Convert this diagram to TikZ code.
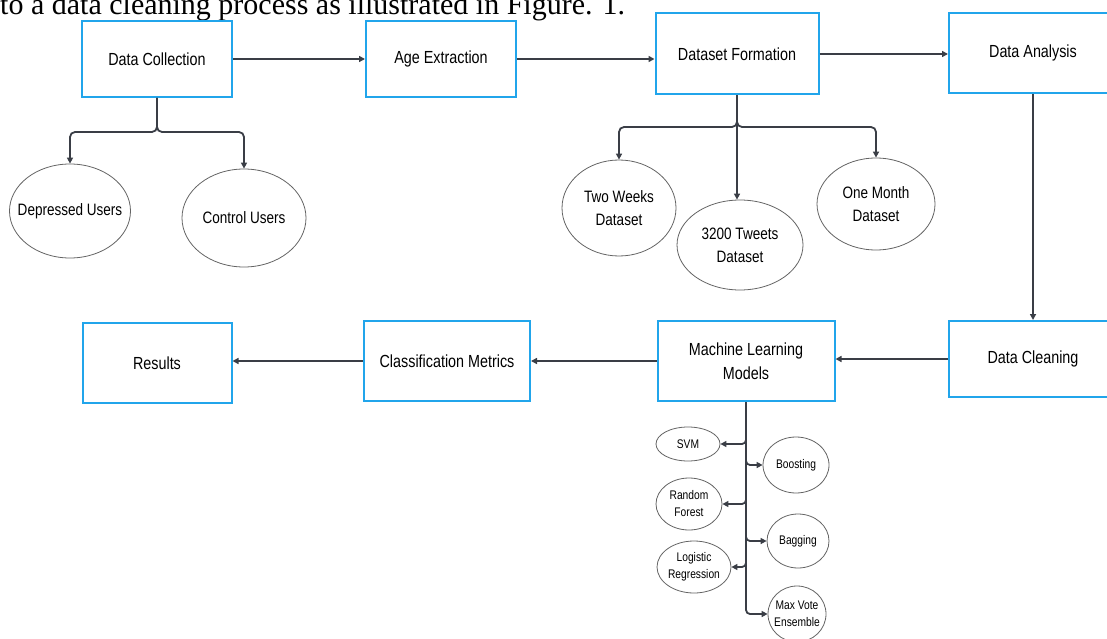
\documentclass[tikz,border=0pt]{standalone}
\usepackage{fontspec}
\usepackage{tikz}
\usetikzlibrary{arrows.meta, positioning, calc, shapes.geometric}
\newfontfamily\chartfont{Liberation Sans}[FakeStretch=0.82]
\newfontfamily\paperfont{Liberation Serif}
\definecolor{boxblue}{RGB}{33,165,235}
\definecolor{linegray}{RGB}{58,62,70}
\definecolor{ringgray}{RGB}{100,100,100}

\tikzset{
  stage/.style={draw=boxblue, line width=2pt, fill=white, align=center, inner sep=0pt,
    font=\chartfont\fontsize{17.5}{24}\selectfont},
  ring/.style={ellipse, draw=ringgray, line width=0.8pt, fill=white, inner sep=0pt},
  ringtext/.style={align=center, inner sep=0pt, font=\chartfont\fontsize{16.5}{23}\selectfont},
  smalltext/.style={align=center, inner sep=0pt, font=\chartfont\fontsize{12.5}{17}\selectfont},
  flow/.style={draw=linegray, line width=1.8pt, -{Triangle[length=6pt,width=6pt]}},
}

\begin{document}
\begin{tikzpicture}[x=1pt, y=-1pt]
  \useasboundingbox (0,0) rectangle (1107,639);
  \clip (0,0) rectangle (1107,639);
  % line of the paper above the figure
  \node[font=\paperfont\fontsize{30}{36}\selectfont, anchor=base west, inner sep=0pt] (intro) at (0,15)
    {to a data cleaning process as illustrated in Figure. 1.};
  % top row
  \node[stage, minimum width=150pt, minimum height=76pt] (coll) at (157,59) {Data Collection};
  \node[stage, minimum width=150pt, minimum height=76pt] (age) at (441,59) {Age Extraction};
  \node[stage, minimum width=163pt, minimum height=81pt] (form) at (737,54) {Dataset Formation};
  \node[stage, minimum width=168pt, minimum height=80pt] (anal) at (1033,53) {Data Analysis};
  % bottom row
  \node[stage, minimum width=168pt, minimum height=76pt] (clean) at (1033,359) {Data Cleaning};
  \node[stage, minimum width=177pt, minimum height=80pt] (ml) at (746,361) {Machine Learning\\Models};
  \node[stage, minimum width=166pt, minimum height=80pt] (metr) at (447,361) {Classification Metrics};
  \node[stage, minimum width=149pt, minimum height=80pt] (res) at (157,363) {Results};
  % users
  \node[ring, minimum width=121pt, minimum height=94pt, label={[ringtext]center:Depressed Users}] (dep) at (70,211) {};
  \node[ring, minimum width=124pt, minimum height=98pt, label={[ringtext]center:Control Users}] (ctrl) at (244,218) {};
  % datasets
  \node[ring, minimum width=114pt, minimum height=96pt, label={[ringtext]center:Two Weeks\\Dataset}] (two) at (619,208) {};
  \node[ring, minimum width=126pt, minimum height=90pt, label={[ringtext]center:3200 Tweets\\Dataset}] (tweets) at (740,245) {};
  \node[ring, minimum width=118pt, minimum height=92pt, label={[ringtext]center:One Month\\Dataset}] (month) at (876,204) {};
  % models
  \node[ring, minimum width=64pt, minimum height=34pt, label={[smalltext]center:SVM}] (svm) at (688,444) {};
  \node[ring, minimum width=66pt, minimum height=56pt, label={[smalltext]center:Boosting}] (boost) at (796,465) {};
  \node[ring, minimum width=66pt, minimum height=52pt, label={[smalltext]center:Random\\Forest}] (rf) at (689,504) {};
  \node[ring, minimum width=62pt, minimum height=54pt, label={[smalltext]center:Bagging}] (bag) at (798,541) {};
  \node[ring, minimum width=74pt, minimum height=52pt, label={[smalltext]center:Logistic\\Regression}] (lr) at (694,567) {};
  \node[ring, minimum width=58pt, minimum height=56pt, label={[smalltext]center:Max Vote\\Ensemble}] (maxv) at (797,614) {};
  % main flow
  \draw[flow] (coll.east) -- (age.west);
  \draw[flow] (age.east) -- (age.east -| form.west);
  \draw[flow] (form.east) -- (form.east -| anal.west);
  \draw[flow] (anal.south) -- (clean.north);
  \draw[flow] (clean.west) -- (clean.west -| ml.east);
  \draw[flow] (ml.west) -- (metr.east);
  \draw[flow] (metr.west) -- (metr.west -| res.east);
  % forks
  \coordinate (collfork) at (157,132);
  \draw[flow, rounded corners=5pt] (coll.south) -- (collfork) -| (dep.north);
  \draw[flow, rounded corners=5pt] (coll.south) -- (collfork) -| (ctrl.north);
  \coordinate (formfork) at (737,127);
  \draw[flow, rounded corners=5pt] (form.south) -- (formfork) -| (two.north);
  \draw[flow, rounded corners=5pt] (form.south) -- (formfork) -| (month.north);
  \draw[flow] (form.south) -- (form.south |- tweets.north);
  \foreach \m in {svm, boost, rf, bag, lr, maxv}
    \draw[flow, rounded corners=4pt] (ml.south) |- (\m);
\end{tikzpicture}
\end{document}
